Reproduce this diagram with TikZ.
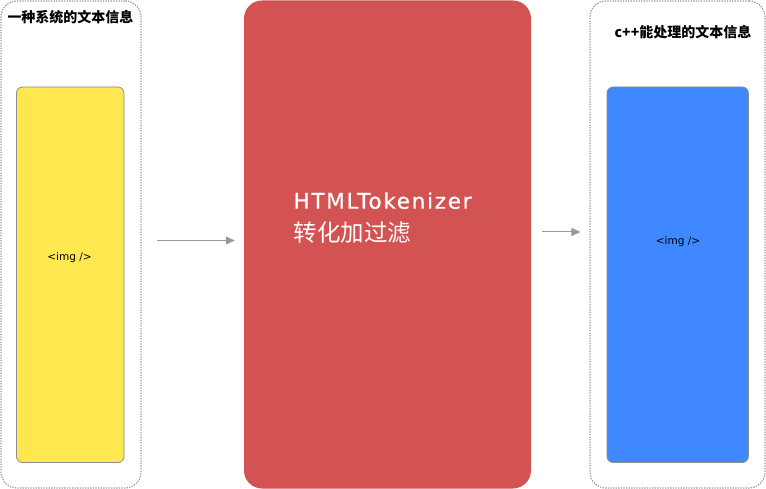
\documentclass[tikz,border=0pt]{standalone}
\usepackage{fontspec}
\setmainfont{DejaVu Sans}
\newfontfamily\cjk{Noto Sans CJK SC}
\newfontfamily\tokfont[LetterSpace=8,FakeBold=0.6]{DejaVu Sans}
\usetikzlibrary{arrows.meta}
\definecolor{boxyellow}{HTML}{FFE74F}
\definecolor{boxred}{HTML}{D35252}
\definecolor{boxblue}{HTML}{3F88FF}
\definecolor{linegray}{HTML}{999999}
\begin{document}
\begin{tikzpicture}[x=1pt,y=-1pt]
\tikzstyle{frame}=[draw=linegray,line width=1.2pt,dash pattern=on 1.3pt off 1.3pt,rounded corners=16pt,inner sep=0pt,minimum height=487pt];
\tikzstyle{card}=[draw=black!45,line width=0.8pt,rounded corners=6pt,inner sep=0pt,minimum height=375.5pt];
\tikzstyle{tag}=[font=\fontsize{10.5}{12}\selectfont];
\tikzstyle{title}=[font=\cjk\bfseries\fontsize{14}{16}\selectfont];
\tikzstyle{flow}=[-{Triangle[length=9pt,width=8pt]},draw=linegray,line width=1pt];
\useasboundingbox (0,0) rectangle (766,489);
\node [frame,minimum width=140pt] (v1) at (71,244.5) {};
\node [title] at (70.5,17.5) {一种系统的文本信息};
\node [card,fill=boxyellow,minimum width=107.5pt] (v2) at (70.25,274.75) {};
\node [tag] at (69.5,258) {<img />};

\node [fill=boxred,rounded corners=18pt,inner sep=0pt,minimum width=287pt,minimum height=488pt] (v3) at (387.5,244.5) {};
\node [anchor=west,text=white,align=left,font=\fontsize{21.5}{33}\selectfont] (v6) at (290,218) {{\tokfont HTMLTokenizer}\\{\cjk\fontsize{23.5}{33}\selectfont 转化加过滤}};

\node [frame,minimum width=175pt] (v4) at (677.5,244.5) {};
\node [title] at (683,32.5) {c++能处理的文本信息};
\node [card,fill=boxblue,minimum width=141.3pt] (v5) at (677.7,274.75) {};
\node [tag] at (678,242) {<img />};

\coordinate (a1) at (157,240.5);
\coordinate (a2) at (542,232);
\draw [flow,shorten >=9pt] (a1) -- (a1 -| v3.west);
\draw [flow,shorten >=9pt] (a2) -- (a2 -| v4.west);
\end{tikzpicture}
\end{document}
